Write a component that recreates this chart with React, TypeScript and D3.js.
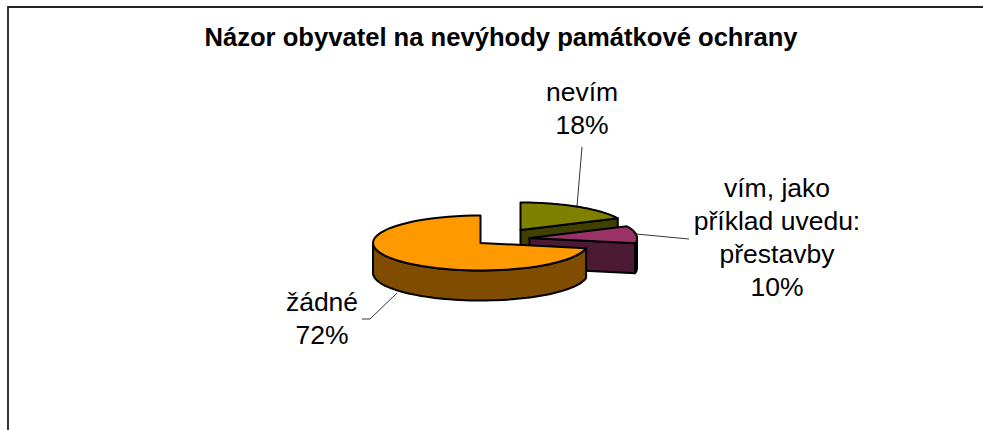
import * as d3 from "d3";

const categories = ["nevím", "vím, jako příklad uvedu: přestavby", "žádné"];
const values = [18, 10, 72];
const topColors = ["#808000", "#993366", "#ff9900"];
const sideColors = ["#404000", "#4d1a33", "#804d00"];

const width = 983;
const height = 430;
const cx = 480.5;
const cy = 243;
const rx = 107.5;
const ry = 27.5;
const depth = 30;
const explode = [
  { dx: 40, dy: -13 },
  { dx: 49, dy: -5 },
  { dx: 0, dy: 0 },
];

const px = d3.scaleLinear().domain([-1, 1]).range([cx - rx, cx + rx]);
const py = d3.scaleLinear().domain([-1, 1]).range([cy - ry, cy + ry]);

const pie = d3.pie<number>().sort(null);
const slices = pie(values);
const line = d3.line();

type Pt = [number, number];

// point on the rim, angle clockwise from 12 o'clock
const rim = (a: number, dx: number, dy: number): Pt => [
  px(Math.sin(a)) + dx,
  py(-Math.cos(a)) + dy,
];

const arcPts = (a0: number, a1: number, dx: number, dy: number): Pt[] =>
  d3.range(0, 61).map((i) => rim(a0 + ((a1 - a0) * i) / 60, dx, dy));

const closed = (pts: Pt[]) => line(pts) + "Z";
const down = (pts: Pt[]): Pt[] => pts.map(([x, y]) => [x, y + depth]);

export default function App() {
  return (
    <svg
      width={width}
      height={height}
      style={{ position: "absolute", left: 0, top: 0 }}
      fontFamily="'Liberation Sans', Arial, sans-serif"
    >
      <rect width={width} height={height} fill="#fff" />
      <path d="M8,430V7H983" fill="none" stroke="#222" strokeWidth={1.8} />
      <text x={501} y={46} textAnchor="middle" fontSize={25.6} fontWeight="bold">
        Názor obyvatel na nevýhody památkové ochrany
      </text>

      {slices.map((s, i) => {
        const { dx, dy } = explode[i];
        const apex: Pt = [cx + dx, cy + dy];
        const outer0 = Math.max(s.startAngle, Math.PI / 2);
        const outer1 = Math.min(s.endAngle, (Math.PI * 3) / 2);
        const front = outer1 > outer0 ? arcPts(outer0, outer1, dx, dy) : [];
        const end = rim(s.endAngle, dx, dy);
        const cut = [apex, end];
        return (
          <g key={categories[i]} stroke="#000" strokeWidth={2} strokeLinejoin="round">
            {s.endAngle < Math.PI * 2 && (
              <path d={closed([...cut, ...down(cut).reverse()])} fill={sideColors[i]} />
            )}
            {front.length > 0 && (
              <path d={closed([...front, ...down(front).reverse()])} fill={sideColors[i]} />
            )}
            <path
              d={closed([apex, ...arcPts(s.startAngle, s.endAngle, dx, dy)])}
              fill={topColors[i]}
            />
          </g>
        );
      })}

      <g fill="none" stroke="#000" strokeWidth={0.8}>
        <path d="M582,147L577,206" />
        <path d="M636,234L689,239" />
        <path d="M397,293L370,319H362" />
      </g>

      <g fontSize={26.5} textAnchor="middle" fill="#000">
        <text x={582} y={101}>nevím</text>
        <text x={582} y={134}>18%</text>
        <text x={777} y={197}>vím, jako</text>
        <text x={777} y={230}>příklad uvedu:</text>
        <text x={777} y={263}>přestavby</text>
        <text x={777} y={296}>10%</text>
        <text x={322} y={311}>žádné</text>
        <text x={322} y={344}>72%</text>
      </g>
    </svg>
  );
}
